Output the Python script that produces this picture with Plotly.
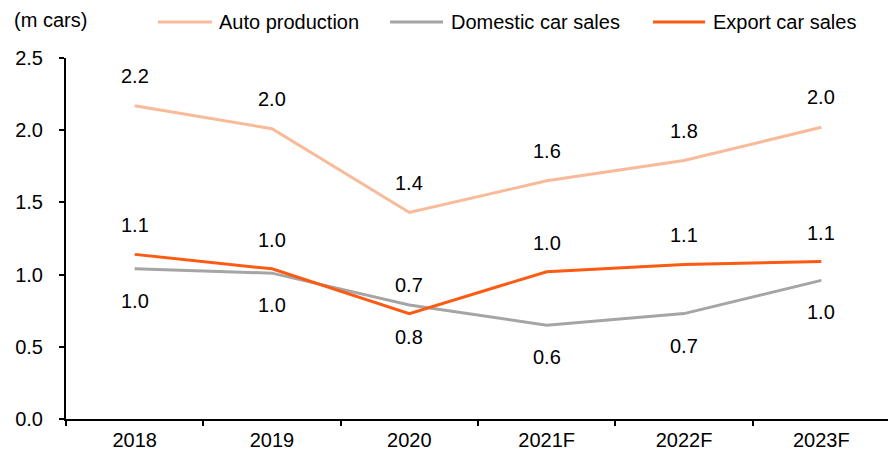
import plotly.graph_objects as go

years = ["2018", "2019", "2020", "2021F", "2022F", "2023F"]
auto_production = [2.17, 2.01, 1.43, 1.65, 1.79, 2.02]
domestic_sales = [1.04, 1.01, 0.79, 0.65, 0.73, 0.96]
export_sales = [1.14, 1.04, 0.73, 1.02, 1.07, 1.09]

auto_labels = ["2.2", "2.0", "1.4", "1.6", "1.8", "2.0"]
domestic_labels = ["1.0", "1.0", "0.8", "0.6", "0.7", "1.0"]
export_labels = ["1.1", "1.0", "0.7", "1.0", "1.1", "1.1"]

FONT = "Liberation Sans, Arial, sans-serif"
FS = 20
AUTO_COLOR = "#F9BA9A"
DOM_COLOR = "#A5A5A5"
EXP_COLOR = "#FD5A12"

# plot area in page pixels (page has an 8px body margin)
PX_L, PX_R, PX_T, PX_B = 66, 890, 58, 419
FIG_W, FIG_H = 882, 446


def px_x(p):
    return (p - PX_L) / (PX_R - PX_L)


def px_y(p):
    return (PX_B - p) / (PX_B - PX_T)


fig = go.Figure()

series = [
    ("Auto production", auto_production, AUTO_COLOR, auto_labels, 30, (158, 212, 217)),
    ("Domestic car sales", domestic_sales, DOM_COLOR, domestic_labels, -32, (390, 443, 449)),
    ("Export car sales", export_sales, EXP_COLOR, export_labels, 29, (653, 705, 711)),
]

legend_y = px_y(22)
for name, vals, color, labels, shift, (lx0, lx1, tx) in series:
    fig.add_trace(go.Scatter(
        x=years, y=vals, name=name, mode="lines", showlegend=False,
        line=dict(color=color, width=3),
    ))
    for i, (y, t) in enumerate(zip(vals, labels)):
        fig.add_annotation(
            x=i, y=y, text=t, showarrow=False, yshift=shift,
            font=dict(size=FS, color="black", family=FONT),
        )
    # legend entry
    fig.add_shape(
        type="line", xref="paper", yref="paper",
        x0=px_x(lx0), x1=px_x(lx1), y0=legend_y, y1=legend_y,
        line=dict(color=color, width=3),
    )
    fig.add_annotation(
        xref="paper", yref="paper", x=px_x(tx), y=legend_y,
        xanchor="left", yanchor="middle", text=name, showarrow=False,
        font=dict(size=FS, color="black", family=FONT),
    )

fig.add_annotation(
    xref="paper", yref="paper", x=px_x(12), y=px_y(20), xanchor="left", yanchor="middle",
    text="(m cars)", showarrow=False, font=dict(size=FS, color="black", family=FONT),
)

fig.update_layout(
    width=FIG_W, height=FIG_H,
    margin=dict(l=PX_L - 8, r=0, t=PX_T - 8, b=FIG_H - (PX_B - 8), autoexpand=False),
    paper_bgcolor="white", plot_bgcolor="white",
    font=dict(family=FONT, size=FS, color="black"),
    showlegend=False,
    xaxis=dict(
        type="category", range=[-0.5, 5.5], showline=True, linecolor="black",
        linewidth=2, ticks="outside", tickson="boundaries", ticklen=5,
        tickcolor="black", tickwidth=2, showgrid=False, zeroline=False,
        tickfont=dict(size=FS), ticklabelstandoff=2,
    ),
    yaxis=dict(
        range=[0, 2.5], dtick=0.5, tickformat=".1f", showline=True,
        linecolor="black", linewidth=2, ticks="outside", ticklen=5,
        tickcolor="black", tickwidth=2, showgrid=False, zeroline=False,
        tickfont=dict(size=FS), ticklabelstandoff=12,
    ),
)

fig.write_html("out.html")
